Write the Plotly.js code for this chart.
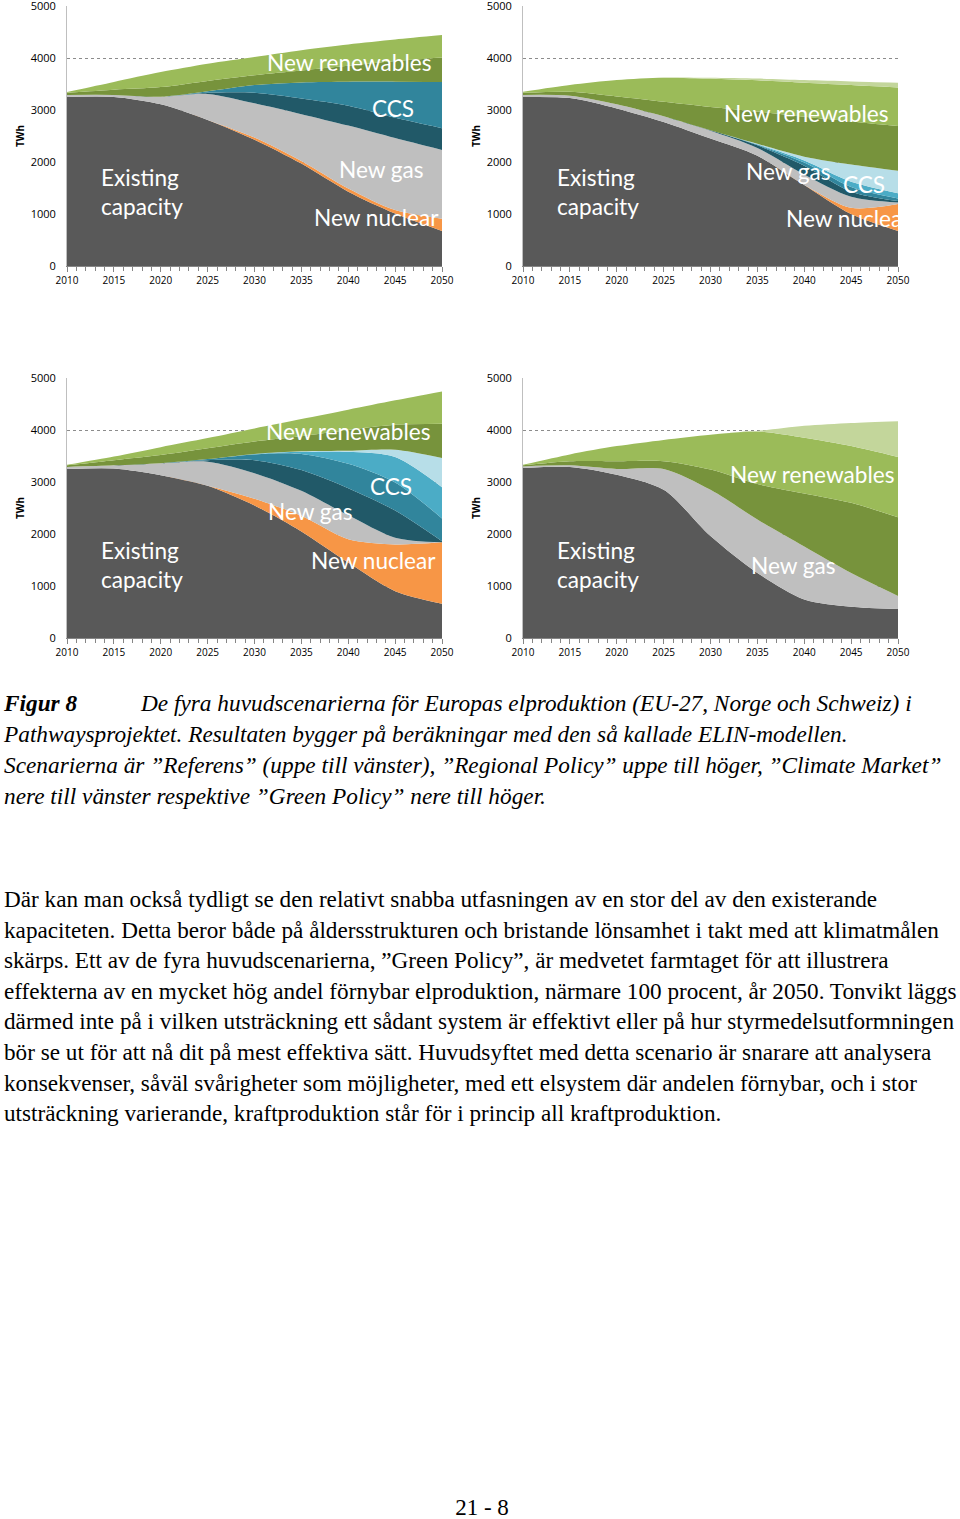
<!DOCTYPE html>
<html>
<head>
<meta charset="utf-8">
<script src="https://cdn.plot.ly/plotly-3.0.1.min.js"></script>
<style>
  body { margin: 0; background: #fff; width: 960px; height: 1519px; position: relative; overflow: hidden; }
  #charts { position: absolute; left: 0; top: -20px; width: 960px; height: 690px; }
  .serif { font-family: "Liberation Serif", "DejaVu Serif", serif; color: #000; position: absolute; white-space: nowrap; }
  .cap { font-size: 23.3px; font-style: italic; line-height: 31px; }
  .body { font-size: 23.2px; line-height: 30.6px; left: 4px; top: 884px; }
</style>
</head>
<body>
<div id="charts"></div>

<div class="serif cap" style="left:4px; top:688px;"><b>Figur 8</b></div>
<div class="serif cap" style="left:141px; top:688px;">De fyra huvudscenarierna för Europas elproduktion (EU-27, Norge och Schweiz) i</div>
<div class="serif cap" style="left:4px; top:719px;">Pathwaysprojektet. Resultaten bygger på beräkningar med den så kallade ELIN-modellen.</div>
<div class="serif cap" style="left:4px; top:750px;">Scenarierna är ”Referens” (uppe till vänster), ”Regional Policy” uppe till höger, ”Climate Market”</div>
<div class="serif cap" style="left:4px; top:781px;">nere till vänster respektive ”Green Policy” nere till höger.</div>

<div class="serif body">
Där kan man också tydligt se den relativt snabba utfasningen av en stor del av den existerande<br>
kapaciteten. Detta beror både på åldersstrukturen och bristande lönsamhet i takt med att klimatmålen<br>
skärps. Ett av de fyra huvudscenarierna, ”Green Policy”, är medvetet farmtaget för att illustrera<br>
effekterna av en mycket hög andel förnybar elproduktion, närmare 100 procent, år 2050. Tonvikt läggs<br>
därmed inte på i vilken utsträckning ett sådant system är effektivt eller på hur styrmedelsutformningen<br>
bör se ut för att nå dit på mest effektiva sätt. Huvudsyftet med detta scenario är snarare att analysera<br>
konsekvenser, såväl svårigheter som möjligheter, med ett elsystem där andelen förnybar, och i stor<br>
utsträckning varierande, kraftproduktion står för i princip all kraftproduktion.
</div>

<div class="serif" style="left:0; width:964px; text-align:center; top:1492px; font-size:23px; line-height:31px;">21 - 8</div>

<script>
const years = [2010, 2015, 2020, 2025, 2030, 2035, 2040, 2045, 2050];

// Referens (top left)
const refExisting = [3250, 3250, 3110, 2810, 2430, 1970, 1430, 1010, 675];
const refNuclear  = [0, 0, 0, 0, 40, 50, 60, 65, 235];
const refGas      = [40, 40, 145, 500, 660, 900, 1210, 1385, 1320];
const refCcsDark  = [0, 0, 0, 20, 200, 300, 380, 390, 420];
const refCcsTeal  = [0, 0, 0, 30, 150, 310, 465, 695, 890];
const refRenDark  = [40, 100, 185, 200, 190, 230, 305, 395, 470];
const refRenLight = [15, 150, 290, 330, 350, 390, 410, 415, 430];

// Regional Policy (top right)
const regExisting  = [3250, 3230, 3030, 2770, 2450, 2120, 1560, 1000, 675];
const regNuclear   = [0, 0, 0, 0, 0, 0, 0, 120, 515];
const regGas       = [40, 45, 80, 110, 150, 150, 200, 210, 30];
const regCcsDark   = [0, 0, 0, 0, 10, 50, 170, 100, 30];
const regCcsTeal   = [0, 0, 0, 0, 0, 10, 60, 90, 50];
const regCcsBright = [0, 0, 0, 0, 0, 10, 40, 100, 100];
const regCcsPale   = [0, 0, 0, 0, 0, 10, 70, 330, 430];
const regRenDark   = [40, 75, 150, 280, 450, 620, 770, 830, 860];
const regRenMid    = [20, 130, 315, 460, 540, 600, 655, 700, 745];
const regRenPale   = [0, 0, 0, 5, 20, 35, 50, 70, 90];

// Climate Market (bottom left)
const cmExisting  = [3250, 3260, 3130, 2930, 2550, 2050, 1450, 900, 660];
const cmNuclear   = [0, 0, 0, 0, 130, 300, 450, 900, 1180];
const cmGas       = [40, 60, 230, 460, 490, 480, 460, 130, 0];
const cmCcsDark   = [0, 0, 0, 30, 250, 400, 520, 520, 20];
const cmCcsTeal   = [0, 0, 0, 20, 110, 310, 470, 540, 440];
const cmCcsBright = [0, 0, 0, 0, 10, 40, 230, 490, 600];
const cmCcsPale   = [0, 0, 0, 0, 0, 10, 20, 140, 560];
const cmRenDark   = [30, 100, 160, 210, 240, 290, 400, 480, 660];
const cmRenLight  = [10, 70, 150, 195, 250, 330, 390, 470, 620];

// Green Policy (bottom right)
const gpExisting = [3270, 3290, 3140, 2850, 1960, 1250, 740, 600, 560];
const gpGas      = [30, 30, 110, 400, 890, 1030, 1020, 650, 250];
const gpRenDark  = [20, 80, 150, 150, 390, 680, 1020, 1350, 1510];
const gpRenMid   = [10, 130, 290, 410, 670, 1010, 1070, 1090, 1160];
const gpRenPale  = [0, 0, 0, 0, 0, 10, 230, 445, 690];

const cExisting = '#595959', cGas = '#BFBFBF', cNuclear = '#F79646';
const cCcsDark = '#215968', cCcsTeal = '#31859C', cCcsBright = '#4BACC6', cCcsPale = '#B7DEE8';
const cRenDark = '#77933C', cRenMid = '#9BBB59', cRenPale = '#C3D69B';

const traces = [];
function addLayer(n, values, color) {
  traces.push({
    x: years, y: values, type: 'scatter', mode: 'lines',
    xaxis: 'x' + (n > 1 ? n : ''), yaxis: 'y' + (n > 1 ? n : ''),
    stackgroup: 'g' + n,
    line: { width: 0, shape: 'spline', smoothing: 0.8 },
    fillcolor: color, hoverinfo: 'skip', showlegend: false
  });
}

[[refExisting, cExisting], [refNuclear, cNuclear], [refGas, cGas], [refCcsDark, cCcsDark],
 [refCcsTeal, cCcsTeal], [refRenDark, cRenDark], [refRenLight, cRenMid]]
  .forEach(l => addLayer(1, l[0], l[1]));

[[regExisting, cExisting], [regNuclear, cNuclear], [regGas, cGas], [regCcsDark, cCcsDark],
 [regCcsTeal, cCcsTeal], [regCcsBright, cCcsBright], [regCcsPale, cCcsPale],
 [regRenDark, cRenDark], [regRenMid, cRenMid], [regRenPale, cRenPale]]
  .forEach(l => addLayer(2, l[0], l[1]));

[[cmExisting, cExisting], [cmNuclear, cNuclear], [cmGas, cGas], [cmCcsDark, cCcsDark],
 [cmCcsTeal, cCcsTeal], [cmCcsBright, cCcsBright], [cmCcsPale, cCcsPale],
 [cmRenDark, cRenDark], [cmRenLight, cRenMid]]
  .forEach(l => addLayer(3, l[0], l[1]));

[[gpExisting, cExisting], [gpGas, cGas], [gpRenDark, cRenDark], [gpRenMid, cRenMid], [gpRenPale, cRenPale]]
  .forEach(l => addLayer(4, l[0], l[1]));

const tickFont = { family: 'Open Sans, sans-serif', size: 10, color: '#000' };

function xAxis(domain, anchor) {
  return {
    domain: domain, anchor: anchor, range: [2010, 2050], fixedrange: true,
    tick0: 2010, dtick: 5, ticks: 'outside', ticklen: 5, tickcolor: '#868686',
    minor: { dtick: 1, ticks: 'outside', ticklen: 4, tickcolor: '#868686' },
    showline: true, linecolor: '#868686', showgrid: false, zeroline: false,
    tickfont: tickFont
  };
}
function yAxis(domain, anchor) {
  return {
    domain: domain, anchor: anchor, range: [0, 5000], fixedrange: true,
    dtick: 1000, ticks: '', showline: true, linecolor: '#BFBFBF',
    showgrid: true, gridcolor: '#8C8C8C', griddash: 'dot', gridwidth: 1, zeroline: false,
    tickfont: { family: 'Open Sans, sans-serif', size: 11, color: '#000' },
    ticklabelstandoff: 8,
    title: { text: '<b>TWh</b>', font: { family: 'Open Sans, sans-serif', size: 10, color: '#000' }, standoff: 4 }
  };
}

// the div starts 20px above the page so the top 5000 label has room
const H = 690;
const xL = [67 / 960, 442 / 960], xR = [523 / 960, 898 / 960];
const yT = [1 - 286 / H, 1 - 26 / H], yB = [1 - 658 / H, 1 - 398 / H];

const lbl = { family: 'Lato, sans-serif', size: 22.6, color: '#fff' };
function note(n, x, y, text, anchor) {
  const s = n > 1 ? n : '';
  return { xref: 'x' + s, yref: 'y' + s, x: x, y: y, text: text, showarrow: false,
           xanchor: anchor || 'center', align: 'left', font: lbl };
}

const annotations = [
  note(1, 2040.1, 3920, 'New renewables'), note(1, 2044.8, 3020, 'CCS'),
  note(1, 2043.5, 1865, 'New gas'), note(1, 2043.0, 940, 'New nuclear'),
  note(1, 2013.4, 1420, 'Existing<br>capacity', 'left'),
  note(2, 2040.2, 2940, 'New renewables'), note(2, 2046.4, 1560, 'CCS'),
  note(2, 2038.3, 1810, 'New gas'), note(2, 2037.8, 905, 'New nuclea', 'left'),
  note(2, 2013.4, 1420, 'Existing<br>capacity', 'left'),
  note(3, 2040.0, 3980, 'New renewables'), note(3, 2044.6, 2920, 'CCS'),
  note(3, 2036.0, 2440, 'New gas'), note(3, 2042.7, 1500, 'New nuclear'),
  note(3, 2013.4, 1400, 'Existing<br>capacity', 'left'),
  note(4, 2040.8, 3135, 'New renewables'), note(4, 2038.8, 1400, 'New gas'),
  note(4, 2013.4, 1400, 'Existing<br>capacity', 'left')
];

const layout = {
  width: 960, height: H,
  margin: { l: 0, r: 0, t: 0, b: 0 },
  paper_bgcolor: 'rgba(0,0,0,0)', plot_bgcolor: 'rgba(0,0,0,0)',
  showlegend: false,
  xaxis: xAxis(xL, 'y'), yaxis: yAxis(yT, 'x'),
  xaxis2: xAxis(xR, 'y2'), yaxis2: yAxis(yT, 'x2'),
  xaxis3: xAxis(xL, 'y3'), yaxis3: yAxis(yB, 'x3'),
  xaxis4: xAxis(xR, 'y4'), yaxis4: yAxis(yB, 'x4'),
  annotations: annotations
};

Plotly.newPlot('charts', traces, layout, { staticPlot: true, displayModeBar: false });
</script>
</body>
</html>
